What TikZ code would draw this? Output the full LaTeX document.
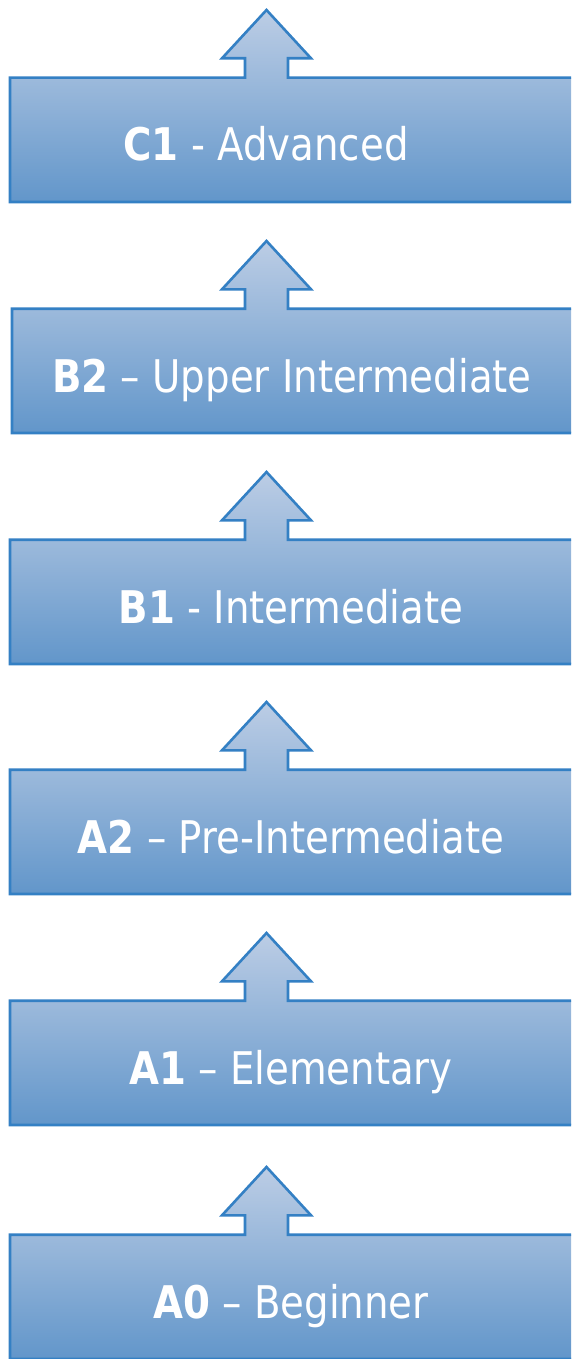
\documentclass[tikz,border=0pt]{standalone}
\usepackage{fontspec}
\setmainfont{DejaVu Sans}[FakeStretch=0.86]
\definecolor{bord}{RGB}{52,128,196}
\definecolor{shtop}{RGB}{188,205,229}
\definecolor{shbot}{RGB}{98,150,202}
\tikzset{
  levelshape/.style={draw=bord, line width=2.6pt, line join=miter, top color=shtop, bottom color=shbot},
  leveltext/.style={text=white, anchor=base, inner sep=0pt, font=\fontsize{45}{54}\selectfont}
}
\begin{document}
\begin{tikzpicture}[x=1pt,y=-1pt]
\useasboundingbox (0,0) rectangle (571,1359);
\clip (0,0) rectangle (571,1359);
\foreach \t/\l/\tx/\bl/\rs/\nm in {
  10/10/266/C1/{ - Advanced}/c1,
  241/12/292/B2/{ – Upper Intermediate}/b2,
  472/10/291/B1/{ - Intermediate}/b1,
  702/10/291/A2/{ – Pre-Intermediate}/a2,
  933/10/291/A1/{ – Elementary}/a1,
  1167/10/291/A0/{ – Beginner}/a0}{
  \path[levelshape] (\l,\t+192) -- (\l,\t+67.7) -- (245,\t+67.7) -- (245,\t+48.3)
     -- (222,\t+48.3) -- (266.5,\t) -- (311,\t+48.3) -- (288,\t+48.3)
     -- (288,\t+67.7) -- (580,\t+67.7) -- (580,\t+192) -- cycle;
  \node[leveltext] (\nm) at (\tx,\t+151) {\textbf{\bl}\rs};
}
\end{tikzpicture}
\end{document}
